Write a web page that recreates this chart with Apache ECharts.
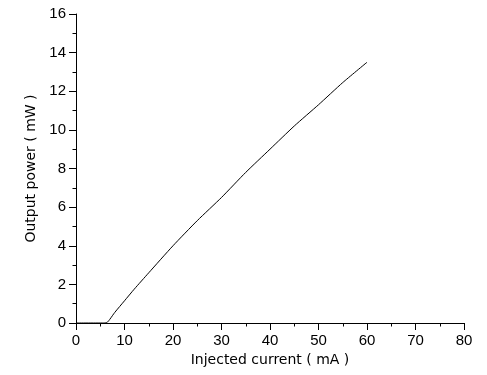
<!DOCTYPE html>
<html>
<head>
<meta charset="utf-8">
<script src="https://cdn.jsdelivr.net/npm/echarts@6/dist/echarts.min.js"></script>
<style>
  html, body { margin: 0; padding: 0; background: #fff; }
  #chart { width: 487px; height: 375px; }
</style>
</head>
<body>
<div id="chart"></div>
<script>
// injected current (mA) and output power (mW)
const current = [0, 6, 6.5, 7, 8, 10, 12, 15, 20, 25, 30, 35, 40, 45, 50, 55, 60];
const power = [0, 0, 0.05, 0.2, 0.55, 1.15, 1.75, 2.6, 4.0, 5.3, 6.5, 7.8, 9.0, 10.2, 11.3, 12.45, 13.5];

const xTicks = [0, 10, 20, 30, 40, 50, 60, 70, 80];
const yTicks = [0, 2, 4, 6, 8, 10, 12, 14, 16];

const chart = echarts.init(document.getElementById('chart'), null, { renderer: 'canvas' });

const font = 'Liberation Sans, Arial, sans-serif';
const nameFont = 'DejaVu Sans, sans-serif';

const option = {
	backgroundColor: '#fff',
	animation: false,
	grid: {
		left: 76,
		right: 23,
		top: 14,
		bottom: 52,
		containLabel: false,
	},
	xAxis: {
		type: 'value',
		min: xTicks[0],
		max: xTicks[xTicks.length - 1],
		interval: 10,
		name: 'Injected current ( mA )',
		nameLocation: 'middle',
		nameGap: 27,
		nameTextStyle: { fontFamily: nameFont, fontSize: 14, color: '#000' },
		axisLine: { onZero: false, lineStyle: { color: '#000', width: 1 } },
		axisTick: { show: true, length: 7, lineStyle: { color: '#000' } },
		minorTick: { show: true, splitNumber: 2, length: 3.5, lineStyle: { color: '#000' } },
		axisLabel: { fontFamily: font, fontSize: 15, color: '#000', margin: 10 },
		splitLine: { show: false },
	},
	yAxis: {
		type: 'value',
		min: yTicks[0],
		max: yTicks[yTicks.length - 1],
		interval: 2,
		name: 'Output power ( mW )',
		nameLocation: 'middle',
		nameGap: 36,
		nameTextStyle: { fontFamily: nameFont, fontSize: 14, color: '#000' },
		axisLine: { show: true, onZero: false, lineStyle: { color: '#000', width: 1 } },
		axisTick: { show: true, length: 7, lineStyle: { color: '#000' } },
		minorTick: { show: true, splitNumber: 2, length: 3.5, lineStyle: { color: '#000' } },
		axisLabel: { fontFamily: font, fontSize: 15, color: '#000', margin: 10 },
		splitLine: { show: false },
	},
	series: [
		{
			type: 'line',
			data: current.map((c, i) => [c, power[i]]),
			showSymbol: false,
			smooth: 0.2,
			lineStyle: { color: '#000', width: 1 },
		},
	],
};

chart.setOption(option);
</script>
</body>
</html>
